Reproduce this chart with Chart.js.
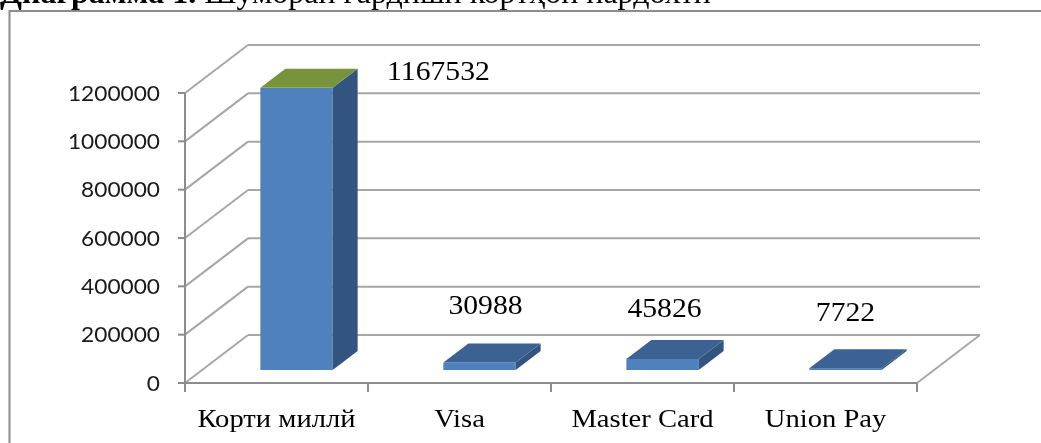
<!DOCTYPE html>
<html>
<head>
<meta charset="utf-8">
<script src="https://cdn.jsdelivr.net/npm/chart.js@4.4.1/dist/chart.umd.min.js"></script>
<style>
	html, body { margin: 0; padding: 0; background: #fff; overflow: hidden; }
	.chart-box { position: relative; width: 1041px; height: 443px; }
</style>
</head>
<body>
<div class="chart-box"><canvas id="myChart" width="1041" height="443"></canvas></div>
<script>
const categories = ['Корти миллй', 'Visa', 'Master Card', 'Union Pay'];
const cardCounts = [1167532, 30988, 45826, 7722];
const yTicks = [0, 200000, 400000, 600000, 800000, 1000000, 1200000];
const titleBold = 'Диаграмма 1.';
const titleRest = ' Шумораи гардиши кортҳои пардохтӣ';

class Front {
	constructor (){
		const _ = this;

		_.wall = {x: 63, y: -48};      // depth of the back wall
		_.barShift = {x: 20, y: -13};  // bars stand a bit behind the front plane
		_.barDepth = {x: 25, y: -19};
		_.labelShift = [[142, -8], [6, -49], [2, -42], [0, -47]];
		_.colors = {
			grid: '#a6a6a6',
			axis: '#8c8c8c',
			front: '#4f81bd',
			side: '#33547f',
			tops: ['#77933c', '#3b6293', '#3b6293', '#3b6293']
		};
		_.init();
	}

	text(ctx, str, x, y, align, stretch){
		ctx.save();
		ctx.translate(x, y);
		ctx.scale(stretch, 1);
		ctx.textAlign = align;
		ctx.fillText(str, 0, 0);
		ctx.restore();
	}

	line(ctx, x1, y1, x2, y2){
		ctx.beginPath();
		ctx.moveTo(x1, y1);
		ctx.lineTo(x2, y2);
		ctx.stroke();
	}

	drawFrame(chart){
		const _ = this;
		const ctx = chart.ctx;
		const area = chart.chartArea;
		const xs = chart.scales.x, ys = chart.scales.y;
		const w = _.wall;
		const half = (xs.getPixelForValue(1) - xs.getPixelForValue(0)) / 2;

		ctx.save();
		// page title, cut by the top of the picture
		ctx.fillStyle = '#000';
		ctx.textBaseline = 'alphabetic';
		ctx.font = 'bold 32px "Liberation Serif"';
		ctx.fillText(titleBold, 0, 3);
		let bw = ctx.measureText(titleBold).width;
		ctx.font = '32px "Liberation Serif"';
		ctx.fillText(titleRest, bw, 3);

		// outer border
		ctx.strokeStyle = '#8c8c8c';
		ctx.lineWidth = 2;
		ctx.strokeRect(9.5, 11, 1100, 500);

		// walls and grid
		ctx.strokeStyle = _.colors.grid;
		ctx.lineWidth = 2;
		yTicks.forEach(v => {
			let py = ys.getPixelForValue(v);
			_.line(ctx, area.left, py, area.left + w.x, py + w.y);
			_.line(ctx, area.left + w.x, py + w.y, area.right + w.x, py + w.y);
		});
		_.line(ctx, area.right, area.bottom, area.right + w.x, area.bottom + w.y);

		ctx.strokeStyle = _.colors.axis;
		_.line(ctx, area.left, area.top, area.left, area.bottom + 9);
		_.line(ctx, area.left, area.bottom, area.right, area.bottom);
		yTicks.forEach(v => {
			let py = ys.getPixelForValue(v);
			_.line(ctx, area.left - 7, py, area.left, py);
		});
		categories.forEach((c, i) => {
			let px = xs.getPixelForValue(i) + half;
			_.line(ctx, px, area.bottom, px, area.bottom + 9);
		});

		// tick labels
		ctx.fillStyle = '#1a1a1a';
		ctx.font = '21px Lato';
		ctx.textBaseline = 'middle';
		yTicks.forEach(v => {
			_.text(ctx, String(v), area.left - 25, ys.getPixelForValue(v) + 1, 'right', 1.08);
		});
		ctx.fillStyle = '#000';
		ctx.font = '26px "Liberation Serif"';
		ctx.textBaseline = 'alphabetic';
		categories.forEach((c, i) => {
			_.text(ctx, c, xs.getPixelForValue(i), area.bottom + 44, 'center', 1.1);
		});
		ctx.restore();
	}

	drawBars(chart){
		const _ = this;
		const ctx = chart.ctx;
		const meta = chart.getDatasetMeta(0);
		const s = _.barShift, d = _.barDepth;

		ctx.save();
		meta.data.forEach((bar, i) => {
			const p = bar.getProps(['x', 'y', 'base', 'width'], true);
			let l = p.x - p.width / 2 + s.x, r = p.x + p.width / 2 + s.x;
			let t = p.y + s.y, b = p.base + s.y;

			ctx.fillStyle = _.colors.front;
			ctx.fillRect(l, t, r - l, b - t);

			ctx.fillStyle = _.colors.side;
			ctx.beginPath();
			ctx.moveTo(r, t);
			ctx.lineTo(r + d.x, t + d.y);
			ctx.lineTo(r + d.x, b + d.y);
			ctx.lineTo(r, b);
			ctx.closePath();
			ctx.fill();

			ctx.fillStyle = _.colors.tops[i];
			ctx.beginPath();
			ctx.moveTo(l, t);
			ctx.lineTo(r, t);
			ctx.lineTo(r + d.x, t + d.y);
			ctx.lineTo(l + d.x, t + d.y);
			ctx.closePath();
			ctx.fill();

			// value label
			ctx.fillStyle = '#000';
			ctx.font = '27px "Liberation Serif"';
			ctx.textBaseline = 'alphabetic';
			let off = _.labelShift[i];
			_.text(ctx, String(cardCounts[i]), p.x + s.x + off[0], t + off[1], 'center', 1.1);
		});
		ctx.restore();
	}

	start(){
		const _ = this;
		const ctx = document.getElementById('myChart');
		let data = {
			labels: categories,
			datasets: [{
				label: 'Кортҳо',
				data: cardCounts,
				backgroundColor: 'rgba(0,0,0,0)',
				borderWidth: 0,
				barPercentage: 0.395,
				categoryPercentage: 1
			}]
		};
		_.chart = new Chart(ctx, {
			type: 'bar',
			data: data,
			options: {
				responsive: false,
				animation: false,
				layout: {
					padding: {left: 185, right: 124, top: 93, bottom: 60}
				},
				scales: {
					x: {display: false},
					y: {display: false, min: 0, max: 1200000}
				},
				plugins: {
					legend: {display: false},
					tooltip: {enabled: false}
				}
			},
			plugins: [{
				id: 'box3d',
				beforeDatasetsDraw: chart => _.drawFrame(chart),
				afterDatasetsDraw: chart => _.drawBars(chart)
			}]
		});
	}

	init(){
		const _ = this;
		_.start();
	}
}
new Front();
</script>
</body>
</html>
